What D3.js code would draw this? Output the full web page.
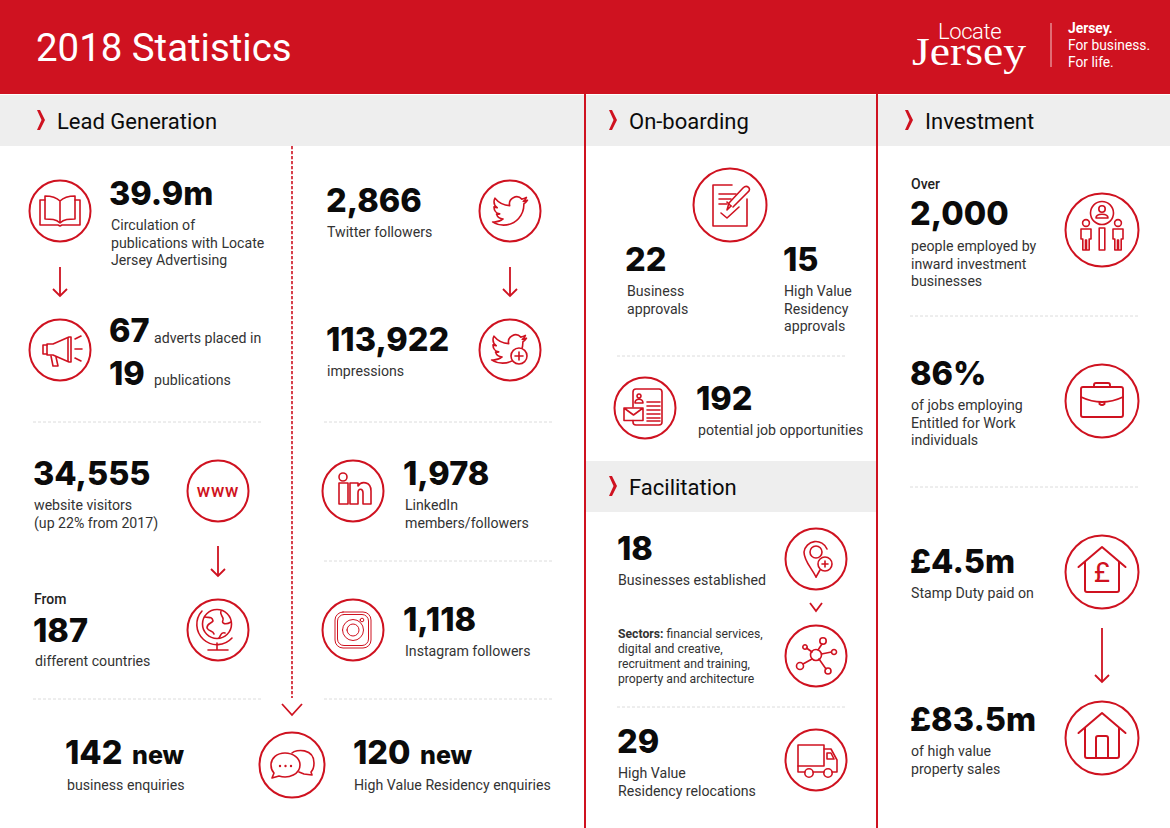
<!DOCTYPE html>
<html><head><meta charset="utf-8">
<script src="https://cdn.jsdelivr.net/npm/d3@7/dist/d3.min.js"></script>
<style>html,body{margin:0;padding:0;background:#fff}svg{display:block}text{font-family:Roboto,Inter,sans-serif}.num,.suf{font-family:Inter,Roboto,sans-serif}</style>
</head><body><div id="c"></div>
<script>
// ---------- content ----------
const pageTitle = "2018 Statistics";
const sectionTitles = ["Lead Generation","On-boarding","Facilitation","Investment"];
const bigNumbers = ["39.9m","67","19","2,866","113,922","34,555","187","1,978","1,118","142","120","22","15","192","18","29","2,000","86%","£4.5m","£83.5m"];
const newSuffix = ["new","new"];
const prefixes = ["From","Over"];
const captions = [
 ["Circulation of","publications with Locate","Jersey Advertising"],
 ["adverts placed in"],["publications"],
 ["Twitter followers"],["impressions"],
 ["website visitors","(up 22% from 2017)"],["different countries"],
 ["LinkedIn","members/followers"],["Instagram followers"],
 ["business enquiries"],["High Value Residency enquiries"],
 ["Business","approvals"],["High Value","Residency","approvals"],
 ["potential job opportunities"],["Businesses established"],
 ["High Value","Residency relocations"],
 ["people employed by","inward investment","businesses"],
 ["of jobs employing","Entitled for Work","individuals"],
 ["Stamp Duty paid on"],["of high value","property sales"]
];
const sectorLead = "Sectors:";
const sectorLines = ["financial services,","digital and creative,","recruitment and training,","property and architecture"];
const logoWords = ["Locate","Jersey"];
const strapline = ["Jersey.","For business.","For life."];

// ---------- layout ----------
const W=1170,H=828,RED="#cf1220",GREY="#eeeeee",INK="#0b0b0b",BODY="#333";
const numberSlots=[[110,205],[110,342],[110,385],[327,212],[327,351],[34,485],[34,642],[404,485],[404,631],[66,764],[354,764],[626,271],[784,271],[697,410],[618,560],[618,753],[911,225],[911,385],[911,573],[911,731]];
const captionSlots=[[111,230],[154,343],[154,385],[327,237],[327,376],[34,510],[35,666],[405,510],[405,656],[67,790],[354,790],[627,296],[784,296],[698,435],[618,585],[618,778],[911,251],[911,410],[911,598],[911,756]];
const suffixSlots=[[132,764],[420,764]];
const prefixSlots=[[34,604],[911,189]];
const sectionSlots=[[57,129,37],[629,129,609],[629,495,609],[925,129,905]];
const bands=[[0,95,584,51],[586,95,290,51],[878,95,292,51],[586,461,290,51]];
const dots=[[33,261,422],[324,552,422],[324,552,561],[33,261,699],[324,552,699],[617,845,356],[617,845,707],[910,1138,316],[910,1138,487]];
const arrows=[[60,267,296],[510,267,296],[218,546,576],[1102,628,682]];

const svg=d3.select("#c").append("svg").attr("width",W).attr("height",H).attr("viewBox",`0 0 ${W} ${H}`);
svg.append("rect").attr("width",W).attr("height",H).attr("fill","#fff");
svg.append("rect").attr("width",W).attr("height",94).attr("fill",RED);
svg.selectAll("rect.band").data(bands).join("rect").attr("class","band")
 .attr("x",d=>d[0]).attr("y",d=>d[1]).attr("width",d=>d[2]).attr("height",d=>d[3]).attr("fill",GREY);
svg.selectAll("line.col").data([585,877]).join("line").attr("class","col")
 .attr("x1",d=>d).attr("x2",d=>d).attr("y1",94).attr("y2",H).attr("stroke",RED).attr("stroke-width",2);

svg.append("text").attr("x",36).attr("y",61).attr("fill","#fff").attr("font-size",38.4).attr("font-weight",400).text(pageTitle);

// logo
svg.append("text").attr("x",938).attr("y",39).attr("fill","#fff").attr("font-size",22).attr("font-weight",300).attr("letter-spacing",-0.4).text(logoWords[0]);
svg.append("text").attr("x",912).attr("y",65).attr("fill","#fff").style("font-family","'Liberation Serif',serif").attr("font-size",39).attr("textLength",114).attr("lengthAdjust","spacingAndGlyphs").text(logoWords[1]);
svg.append("line").attr("x1",1051).attr("x2",1051).attr("y1",23).attr("y2",67).attr("stroke","#f3c5c8").attr("stroke-width",1);
svg.selectAll("text.strap").data(strapline).join("text").attr("class","strap")
 .attr("x",1068).attr("y",(d,i)=>33+i*17).attr("fill","#fff").attr("font-size",13.8).attr("font-weight",(d,i)=>i?400:700).text(d=>d);

// section headings
const sec=svg.selectAll("g.sec").data(sectionTitles).join("g").attr("class","sec");
sec.append("text").attr("x",(d,i)=>sectionSlots[i][0]).attr("y",(d,i)=>sectionSlots[i][1]).attr("font-size",22).attr("fill",INK).text(d=>d);
sec.append("path").attr("transform",(d,i)=>`translate(${sectionSlots[i][2]},${sectionSlots[i][1]-19})`)
 .attr("d","M0 0 L3 0 L8 10 L3 20 L0 20 L4.5 10 Z").attr("fill",RED);

// dotted rules
svg.selectAll("line.dot").data(dots).join("line").attr("class","dot")
 .attr("x1",d=>d[0]).attr("x2",d=>d[1]).attr("y1",d=>d[2]).attr("y2",d=>d[2])
 .attr("stroke","#dcdcdc").attr("stroke-width",1).attr("stroke-dasharray","3 2");

// numbers and captions
svg.selectAll("text.num").data(bigNumbers).join("text").attr("class","num")
 .attr("x",(d,i)=>numberSlots[i][0]-1).attr("y",(d,i)=>numberSlots[i][1])
 .attr("font-size",32.5).attr("font-weight",800).attr("fill",INK).text(d=>d);
svg.selectAll("text.suf").data(newSuffix).join("text").attr("class","suf")
 .attr("x",(d,i)=>suffixSlots[i][0]).attr("y",(d,i)=>suffixSlots[i][1])
 .attr("font-size",25).attr("font-weight",800).attr("fill",INK).text(d=>d);
svg.selectAll("text.pre").data(prefixes).join("text").attr("class","pre")
 .attr("x",(d,i)=>prefixSlots[i][0]).attr("y",(d,i)=>prefixSlots[i][1])
 .attr("font-size",14).attr("font-weight",500).attr("fill","#222").text(d=>d);
svg.selectAll("g.cap").data(captions).join("g").attr("class","cap").each(function(lines,i){
 d3.select(this).selectAll("text").data(lines).join("text")
  .attr("x",captionSlots[i][0]).attr("y",(d,j)=>captionSlots[i][1]+j*17.6)
  .attr("font-size",14.15).attr("fill",BODY).text(d=>d);
});
const sectors=svg.append("g").attr("font-size",12.2).attr("fill",BODY);
sectors.selectAll("text").data(sectorLines).join("text").attr("x",618).attr("y",(d,i)=>638+i*15).each(function(d,i){
 const t=d3.select(this);
 if(i===0){t.append("tspan").attr("font-weight",700).text(sectorLead+" ");}
 t.append("tspan").text(d);
});

// arrows
const arr=svg.append("g").attr("fill","none").attr("stroke",RED).attr("stroke-width",1.8);
arrows.forEach(a=>{arr.append("path").attr("d",d3.line()([[a[0],a[1]],[a[0],a[2]]]));
 arr.append("path").attr("d",d3.line()([[a[0]-7,a[2]-7],[a[0],a[2]],[a[0]+7,a[2]-7]]));});
arr.append("path").attr("d",d3.line()([[810,603],[816,611],[822,603]]));
arr.append("path").attr("d",d3.line()([[282,704],[292,715],[302,704]]));
svg.append("line").attr("x1",292).attr("x2",292).attr("y1",146).attr("y2",698).attr("stroke",RED).attr("stroke-width",1.6).attr("stroke-dasharray","3.2 1.8");

// icons (decorative outlines in a local box centred on the circle)
const tw="M23.953 4.57a10 10 0 01-2.825.775 4.958 4.958 0 002.163-2.723c-.951.555-2.005.959-3.127 1.184a4.92 4.92 0 00-8.384 4.482C7.69 8.095 4.067 6.13 1.64 3.162a4.822 4.822 0 00-.666 2.475c0 1.71.87 3.213 2.188 4.096a4.904 4.904 0 01-2.228-.616v.06a4.923 4.923 0 003.946 4.827 4.996 4.996 0 01-2.212.085 4.936 4.936 0 004.604 3.417 9.867 9.867 0 01-6.102 2.105c-.39 0-.779-.023-1.17-.067a13.995 13.995 0 007.557 2.209c9.053 0 13.998-7.496 13.998-13.985 0-.21 0-.42-.015-.63A9.935 9.935 0 0024 4.59z";
const c=(x,y,r)=>`M${x-r} ${y}a${r} ${r} 0 1 0 ${2*r} 0a${r} ${r} 0 1 0 ${-2*r} 0Z`;
const person=(x,y)=>c(x,y-12,3.4)+`M${x-5} ${y-6}H${x+5}V${y+4}H${x+3.2}V${y+15}H${x+.5}V${y+5}H${x-.5}V${y+15}H${x-3.2}V${y+4}H${x-5}Z`;
const icons={
 book:{r:30.5,at:[60,211],p:["M0-10C-4-14-10-15-15-15V8C-9 8-4 8 0 12C4 8 9 8 15 8V-15C10-15 4-14 0-10ZM0-10V12","M-15-11H-20V14H-2L0 15L2 14H20V-11H15"]},
 horn:{r:30.5,at:[60,350],p:["M-13-6H-7L9-13H11V12H9L-7 5H-13Z","M-13-5H-17V4H-13","M-9 6L-7 16H-2L-4 7","M8-12V11","M15-11L21-14M15-1H22M15 8L21 11"]},
 bird:{r:30.5,at:[510,211],tw:[0,0,1.45]},
 birdPlus:{r:30.5,at:[510,350],tw:[-1,-1,1.45],mask:[c(9,6,8)],p2:["M5 6H13M9 2V10"]},
 www:{r:30.5,at:[218,491],label:"www"},
 globe:{r:30.5,at:[218,630],p:[c(-1,-6,14.5),"M-13-13C-9-12-6-14-5-9C-7-6-11-7-11-2C-9 2-5 0-4 4M3-19C1-15 6-14 5-10C3-6 8-5 13-8M7 3C3 2 3 5 1 8","M-16-19A19 19 0 0 0 14 8","M-1 13V20M-10 20H10"]},
 linkedin:{r:30.5,at:[353,491],p:[c(-10,-14,4),"M-14-8H-5V13H-14Z","M-3-8H5V-5C8-10 18-10 18 0V13H10V2C10-3 5-3 5 2V13H-3Z"]},
 insta:{r:30.5,sw:1,at:[353,630],p:["M-10-18H10A8 8 0 0 1 18-10V10A8 8 0 0 1 10 18H-10A8 8 0 0 1-18 10V-10A8 8 0 0 1-10-18Z","M-9-15.5H9A6.5 6.5 0 0 1 15.5-9V9A6.5 6.5 0 0 1 9 15.5H-9A6.5 6.5 0 0 1-15.5 9V-9A6.5 6.5 0 0 1-9-15.5Z",c(0,0,10.5),c(0,0,6),c(9,-10,1.8)]},
 chat:{r:32.5,at:[292,765],p:["M0-12C4-16 22-17 22-2C22 2 21 5 19 7L20 10L12 9L7 7","M-7-12C-15-12-21-7-21 0C-21 4-20 6-18 8L-20 13L-13 11C-3 14 8 9 8 0C8-7 1-12-7-12Z"],dots:[[-12,1],[-6.5,1],[-1,1]]},
 form:{r:36.5,at:[730,205],p:["M-17-20H2M17-6V21H-17V-20","M-11-11H6M-11-6H1M-11-1H-3","M-9 8L-3 13L9 2","M1 1L-3 5L-1 -2L13-17C17-21 22-16 18-13L3 2","M-3-3L1 1"]},
 cv:{r:30.5,at:[645,408],p:["M-12-1V-16Q-12-19-9-19H14Q17-19 17-16V14Q17 17 14 17H-9Q-12 17-12 14V12.5","M-6-14a2 2 0 1 0 .01 0ZM-10-5C-10-10-2-10-2-5Z","M2-6H15M2-2H15M2 2H15M2 6H15M2 10H15M2 13H15","M-21 0H-2V12.5H-21ZM-21 0L-11.5 7L-2 0"]},
 pin:{r:30.5,at:[816,559],p:["M0 18C-5 8-12 2-12-7A12 12 0 0 1 11-10","M0 18L4 11",c(0,-7,6)],mask:[c(9,5,7)],p2:["M6 5H12M9 2V8"]},
 net:{r:30.5,at:[816,656],p:[c(0,-1,5.5),c(7,-15,3.2),c(18,-4,2.5),c(12,15,3),c(-16,10,3.5),c(-11,-9,2.2),"M2-6L6-12M5.5-2L15.5-4M3 3L10 13M-4 3L-13 8M-4-4L-9.5-8"]},
 truck:{r:30.5,at:[816,760],p:["M-18-15H8V6H-18Z","M8-11H15L21 0V12H16M8 12H-3M-11 12H-18V6","M11-7H15L18-1H11Z",c(-7,13,4.2),c(12,13,4.2)]},
 people:{r:36.5,at:[1102,230],p:[c(0,-17,11.5),c(0,-21,3.2),"M-6-12C-6-17 6-17 6-12Z","M-2.8-2H2.8V20H-2.8Z",person(-16,5),person(16,5)]},
 bag:{r:36.5,at:[1102,401],sw:1.9,p:["M-19-14H19Q21-14 21-12V14Q21 16 19 16H-19Q-21 16-21 14V-12Q-21-14-19-14Z","M-21-4Q0 6 21-4","M-8-14V-16Q-8-18-6-18H6Q8-18 8-16V-14","M-2.5 1.5V3Q0 5 2.5 3V1.5"]},
 housePound:{r:36.5,at:[1102,572],sw:2,p:["M-23.5-5L0-25L23.5-5","M-17-10V18Q-17 20-15 20H15Q17 20 17 18V-10"],label:"£"},
 house:{r:36.5,at:[1102,738],sw:2,p:["M-23.5-5L0-25L23.5-5","M-17-10V18Q-17 20-15 20H15Q17 20 17 18V-10","M-6 20V0Q-6-2-4-2H4Q6-2 6 0V20"]}
};
Object.values(icons).forEach(o=>{
 const g=svg.append("g").attr("transform",`translate(${o.at})`).attr("fill","none").attr("stroke",RED);
 g.append("circle").attr("r",o.r).attr("stroke-width",2);
 const ic=g.append("g").attr("stroke-width",o.sw||1.6).attr("stroke-linejoin","round").attr("stroke-linecap","round");
 if(o.tw) ic.append("path").attr("d",tw).attr("vector-effect","non-scaling-stroke").attr("transform",`translate(${o.tw[0]-12*o.tw[2]},${o.tw[1]-12*o.tw[2]}) scale(${o.tw[2]})`);
 (o.p||[]).forEach(d=>ic.append("path").attr("d",d));
 (o.mask||[]).forEach(d=>ic.append("path").attr("d",d).attr("fill","#fff"));
 (o.p2||[]).forEach(d=>ic.append("path").attr("d",d));
 (o.dots||[]).forEach(d=>g.append("circle").attr("cx",d[0]).attr("cy",d[1]).attr("r",1.2).attr("fill",RED).attr("stroke","none"));
 if(o.label) g.append("text").attr("text-anchor","middle").attr("y",o.label==="£"?10:5.5).attr("fill",RED).attr("stroke","none")
   .attr("font-size",o.label==="£"?28:18).attr("font-weight",o.label==="£"?400:500).attr("letter-spacing",o.label==="£"?0:.8).text(o.label);
});
</script></body></html>
